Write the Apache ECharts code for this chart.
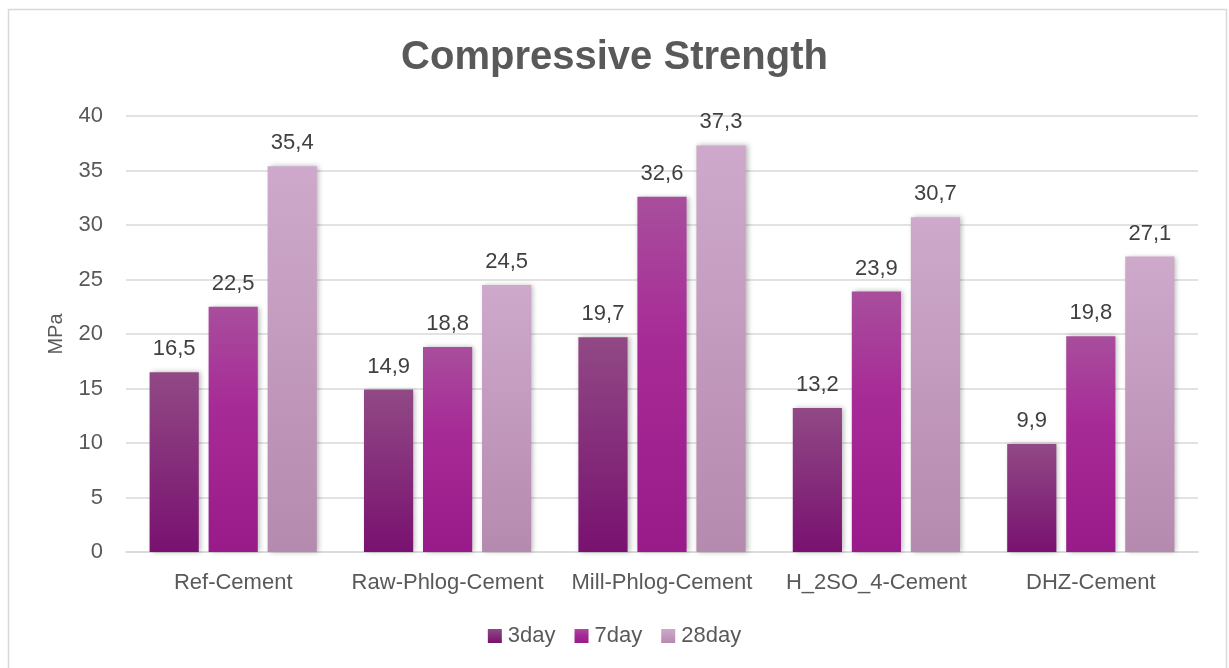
<!DOCTYPE html>
<html>
<head>
<meta charset="utf-8">
<title>Compressive Strength</title>
<script src="https://cdn.jsdelivr.net/npm/echarts@6/dist/echarts.min.js"></script>
<style>
  html, body { margin: 0; padding: 0; background: #ffffff; }
  #chart { width: 1229px; height: 668px; }
</style>
</head>
<body>
<div id="chart"></div>
<script>
// Mixes, curing ages and measured strengths (MPa)
const categories = ['Ref-Cement', 'Raw-Phlog-Cement', 'Mill-Phlog-Cement', 'H_2SO_4-Cement', 'DHZ-Cement'];
const seriesNames = ['3day', '7day', '28day'];
const day3 = [16.5, 14.9, 19.7, 13.2, 9.9];
const day7 = [22.5, 18.8, 32.6, 23.9, 19.8];
const day28 = [35.4, 24.5, 37.3, 30.7, 27.1];
const yTicks = [0, 5, 10, 15, 20, 25, 30, 35, 40];

const FONT = '"Liberation Sans", Arial, sans-serif';

function grad(top, bottom) {
  return new echarts.graphic.LinearGradient(0, 0, 0, 1, [
    { offset: 0, color: top },
    { offset: 1, color: bottom }
  ]);
}
const gradients = [
  grad('#914985', '#791170'),
  new echarts.graphic.LinearGradient(0, 0, 0, 1, [
    { offset: 0, color: '#a84e9c' },
    { offset: 0.4, color: '#a72b97' },
    { offset: 1, color: '#991a89' }
  ]),
  grad('#cea9cb', '#b58aaf')
];

const data = [day3, day7, day28];

const series = seriesNames.map((name, i) => ({
  name: name,
  type: 'bar',
  data: data[i],
  barGap: '20%',
  barCategoryGap: '22%',
  itemStyle: {
    color: gradients[i],
    shadowColor: 'rgba(0,0,0,0.28)',
    shadowBlur: 5,
    shadowOffsetX: 2,
    shadowOffsetY: 0
  },
  label: {
    show: true,
    position: 'top',
    distance: 12,
    color: '#404040',
    fontSize: 22,
    fontFamily: FONT,
    formatter: p => String(p.value).replace('.', ',')
  }
}));

const chart = echarts.init(document.getElementById('chart'), null, { renderer: 'canvas' });
chart.setOption({
  animation: false,
  backgroundColor: '#ffffff',
  title: {
    text: 'Compressive Strength',
    left: 'center',
    top: 33,
    textStyle: { color: '#595959', fontSize: 40, fontWeight: 'bold', fontFamily: FONT }
  },
  legend: {
    data: seriesNames.map((n, i) => ({ name: n, itemStyle: { color: gradients[i] } })),
    bottom: 16,
    left: 'center',
    itemWidth: 14,
    itemHeight: 14,
    itemGap: 19,
    icon: 'rect',
    textStyle: { color: '#595959', fontSize: 22, fontFamily: FONT, padding: [0, 0, 0, 1] }
  },
  grid: { left: 126, right: 31, top: 116, bottom: 116, containLabel: false },
  xAxis: {
    type: 'category',
    data: categories,
    axisLine: { lineStyle: { color: '#d9d9d9', width: 1.5 } },
    axisTick: { show: false },
    axisLabel: { interval: 0, color: '#595959', fontSize: 22, fontFamily: FONT, margin: 20 }
  },
  yAxis: {
    type: 'value',
    min: yTicks[0],
    max: yTicks[yTicks.length - 1],
    interval: 5,
    name: 'MPa',
    nameLocation: 'middle',
    nameGap: 60,
    nameRotate: 90,
    nameTextStyle: { color: '#595959', fontSize: 20, fontFamily: FONT },
    axisLine: { show: false },
    axisTick: { show: false },
    axisLabel: { color: '#595959', fontSize: 22, fontFamily: FONT, margin: 23 },
    splitLine: { lineStyle: { color: '#d9d9d9', width: 1.5 } }
  },
  graphic: [{
    type: 'rect',
    shape: { x: 8.5, y: 9.5, width: 1218, height: 670 },
    style: { fill: 'none', stroke: '#d9d9d9', lineWidth: 1.5 },
    silent: true,
    z: -1
  }],
  series: series
});
</script>
</body>
</html>
